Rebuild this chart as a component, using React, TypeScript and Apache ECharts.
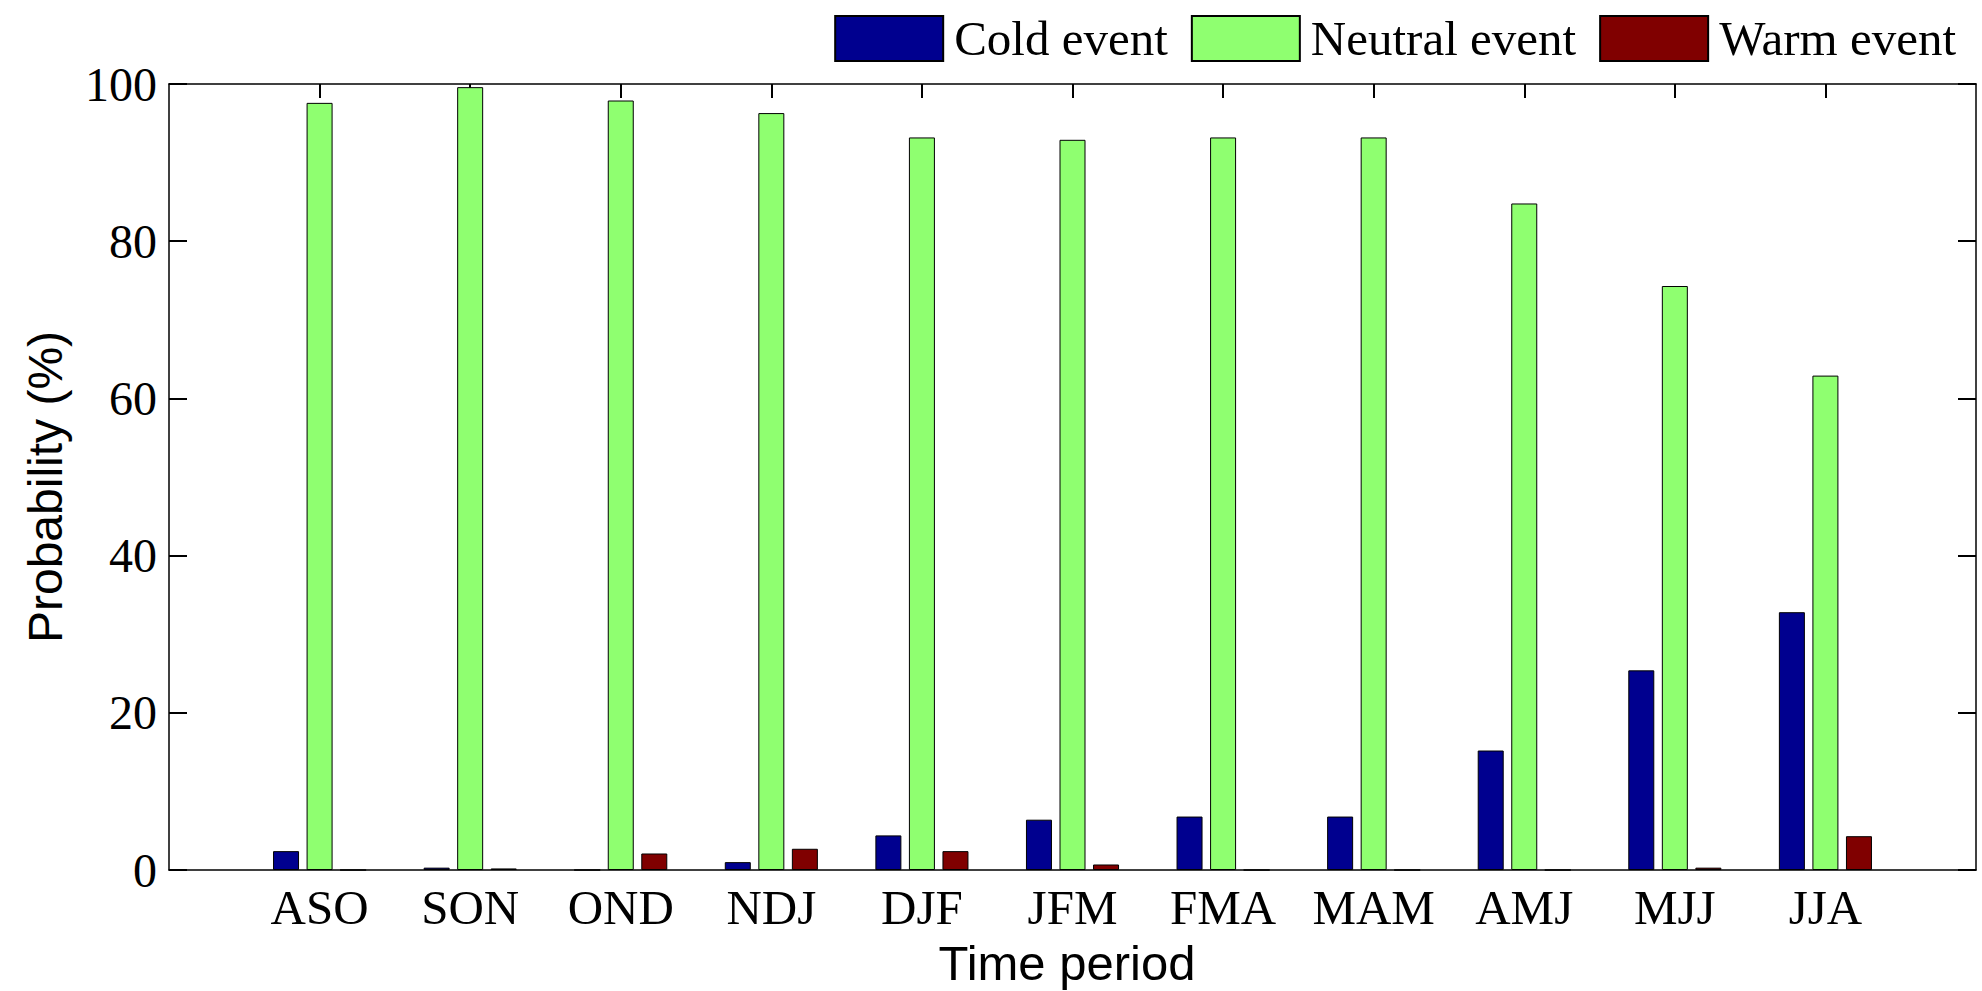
import React, { useEffect, useRef } from "react";
import * as echarts from "echarts";

const categories = ["ASO", "SON", "OND", "NDJ", "DJF", "JFM", "FMA", "MAM", "AMJ", "MJJ", "JJA"];
const coldEvent = [2.4, 0.3, 0.0, 1.0, 4.4, 6.4, 6.8, 6.8, 15.2, 25.4, 32.8];
const neutralEvent = [97.6, 99.6, 97.9, 96.3, 93.2, 92.9, 93.2, 93.2, 84.8, 74.3, 62.9];
const warmEvent = [0.0, 0.2, 2.1, 2.7, 2.4, 0.7, 0.0, 0.0, 0.0, 0.3, 4.3];
const yTicks = { min: 0, max: 100, interval: 20 };

const SERIF = "'Liberation Serif', 'Times New Roman', serif";
const SANS = "'Liberation Sans', Arial, sans-serif";

export default function App() {
  const ref = useRef<HTMLDivElement>(null);

  useEffect(() => {
    document.body.style.margin = "0";
    if (!ref.current) return;
    const chart = echarts.init(ref.current, undefined, { renderer: "svg" });

    // padded categories so that positions 1..11 sit inside xlim [0, 12]
    const xData = ["", ...categories, ""];
    const pad = (arr: number[]) => [null, ...arr, null];

    const barBase = {
      type: "bar" as const,
      barWidth: 26,
      barGap: "29%",
      xAxisIndex: 0,
      yAxisIndex: 0,
      emphasis: { disabled: true },
    };

    const axisLine = { show: true, onZero: false, lineStyle: { color: "#000", width: 1.5 } };
    const tickStyle = { color: "#000", width: 2 };

    chart.setOption({
      animation: false,
      backgroundColor: "#fff",
      grid: { left: 169, right: 6, top: 84, bottom: 121, containLabel: false },
      legend: {
        right: 26,
        top: 14,
        padding: 0,
        itemWidth: 108,
        itemHeight: 45,
        itemGap: 23,
        icon: "rect",
        textStyle: { fontFamily: SERIF, fontSize: 49, color: "#000", padding: [0, 0, 0, 6] },
        selectedMode: false,
      },
      xAxis: [
        {
          type: "category",
          data: xData,
          position: "bottom",
          boundaryGap: false,
          axisLine,
          axisTick: { show: false },
          axisLabel: { fontFamily: SERIF, fontSize: 49, color: "#000", margin: 13, interval: 0 },
          splitLine: { show: false },
        },
        {
          type: "category",
          data: xData,
          position: "top",
          boundaryGap: false,
          axisLine,
          axisTick: {
            show: true,
            inside: true,
            length: 14,
            interval: (i: number) => i >= 1 && i <= categories.length,
            lineStyle: tickStyle,
          },
          axisLabel: { show: false },
          splitLine: { show: false },
        },
      ],
      yAxis: [
        {
          type: "value",
          position: "left",
          min: yTicks.min,
          max: yTicks.max,
          interval: yTicks.interval,
          axisLine,
          axisTick: { show: true, inside: true, length: 18, lineStyle: tickStyle },
          axisLabel: { fontFamily: SERIF, fontSize: 48, color: "#000", margin: 12 },
          splitLine: { show: false },
        },
        {
          type: "value",
          position: "right",
          min: yTicks.min,
          max: yTicks.max,
          interval: yTicks.interval,
          axisLine,
          axisTick: { show: true, inside: true, length: 18, lineStyle: tickStyle },
          axisLabel: { show: false },
          splitLine: { show: false },
        },
      ],
      series: [
        { ...barBase, name: "Cold event", data: pad(coldEvent), itemStyle: { color: "#00008F", borderColor: "#000", borderWidth: 1 } },
        { ...barBase, name: "Neutral event", data: pad(neutralEvent), itemStyle: { color: "#8FFF70", borderColor: "#000", borderWidth: 1 } },
        { ...barBase, name: "Warm event", data: pad(warmEvent), itemStyle: { color: "#800000", borderColor: "#000", borderWidth: 1 } },
      ],
      graphic: [
        {
          type: "text",
          x: 45,
          y: 487,
          rotation: Math.PI / 2,
          style: { text: "Probability (%)", fontFamily: SANS, fontSize: 48, fill: "#000", align: "center", verticalAlign: "middle" },
        },
        {
          type: "text",
          x: 1067,
          y: 963,
          style: { text: "Time period", fontFamily: SANS, fontSize: 49, fill: "#000", align: "center", verticalAlign: "middle" },
        },
      ],
    });

    return () => chart.dispose();
  }, []);

  return <div ref={ref} style={{ width: 1982, height: 991 }} />;
}
